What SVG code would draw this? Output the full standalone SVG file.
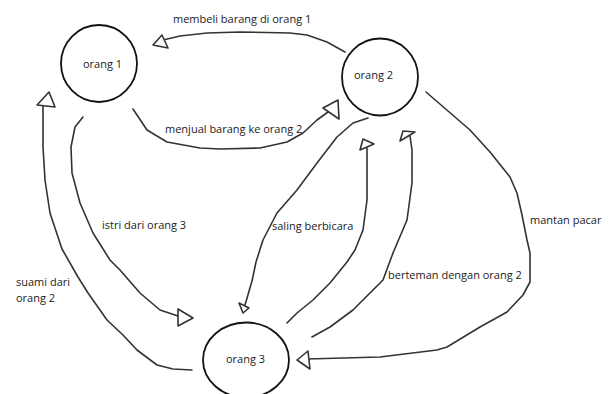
<svg xmlns="http://www.w3.org/2000/svg" width="611" height="394" viewBox="0 0 611 394">
<style>
.node{fill:#fff;stroke:#111;stroke-width:1.8}
.line{fill:none;stroke:#333;stroke-width:1.6;stroke-linejoin:round;stroke-linecap:round}
.head{fill:#fff;stroke:#333;stroke-width:1.6;stroke-linejoin:round}
text{font-family:"Open Sans","Noto Sans",sans-serif;font-size:11px;fill:#222}
</style>
<rect width="611" height="394" fill="#fff"/>
<g id="connectors">
<g id="c-membeli">
<path class="line" d="M345,52 L327,42 L307,35 L290,33 L240,32 L207,33 L180,36 L163,40"/>
<polygon class="head" points="153,45 168,48 162,35"/>
<text x="173" y="23">membeli barang di orang 1</text>
</g>
<g id="c-menjual">
<path class="line" d="M133,109 L147,130 L167,142 L200,148 L220,149 L260,148 L287,142 L303,133 L317,120 L328,112"/>
<polygon class="head" points="338,100 323,108 339,119"/>
<text x="165" y="133">menjual barang ke orang 2</text>
</g>
<g id="c-saling">
<path class="line" d="M368,118 L353,123 L337,137 L317,163 L297,190 L277,213 L263,240 L256,262 L252,281 L245,305"/>
<polygon class="head" points="243,313 239,303 249,308"/>
<text x="272" y="230">saling berbicara</text>
</g>
<g id="c-a">
<path class="line" d="M287,323 L297,313 L313,300 L330,283 L347,262 L355,250 L363,230 L367,200 L367,167 L367,148"/>
<polygon class="head" points="360,150 363,139 374,144"/>
</g>
<g id="c-berteman">
<path class="line" d="M312,337 L330,327 L353,310 L370,293 L383,280 L393,253 L407,220 L412,183 L412,150 L410,136"/>
<polygon class="head" points="400,141 403,131 415,132"/>
<text x="388" y="279">berteman dengan orang 2</text>
</g>
<g id="c-mantan">
<path class="line" d="M426,92 L470,130 L490,152 L510,177 L517,193 L522,215 L527,240 L530,253 L530,282 L523,295 L507,312 L480,327 L447,347 L437,350 L380,357 L307,359"/>
<polygon class="head" points="297,360 308,351 310,369"/>
<text x="530" y="224">mantan pacar</text>
</g>
<g id="c-istri">
<path class="line" d="M83,117 L75,127 L71,147 L72,173 L80,203 L93,233 L110,260 L120,270 L140,293 L160,310 L178,316"/>
<polygon class="head" points="193,318 178,309 178,326"/>
<text x="102" y="229">istri dari orang 3</text>
</g>
<g id="c-suami">
<path class="line" d="M192,370 L173,369 L157,365 L137,350 L123,335 L107,320 L88,293 L78,277 L62,249 L50,213 L45,180 L43,147 L43,106"/>
<polygon class="head" points="49,92 37,105 55,107"/>
<text x="16" y="286">suami dari</text>
<text x="16" y="302">orang 2</text>
</g>
</g>
<g id="orang1">
<ellipse class="node" cx="99" cy="63.5" rx="38" ry="38.5"/>
<text x="83" y="68">orang 1</text>
</g>
<g id="orang2">
<ellipse class="node" cx="380" cy="77" rx="38" ry="38.5"/>
<text x="354" y="79">orang 2</text>
</g>
<g id="orang3">
<ellipse class="node" cx="246" cy="360" rx="43" ry="37.5"/>
<text x="226" y="363">orang 3</text>
</g>
</svg>
